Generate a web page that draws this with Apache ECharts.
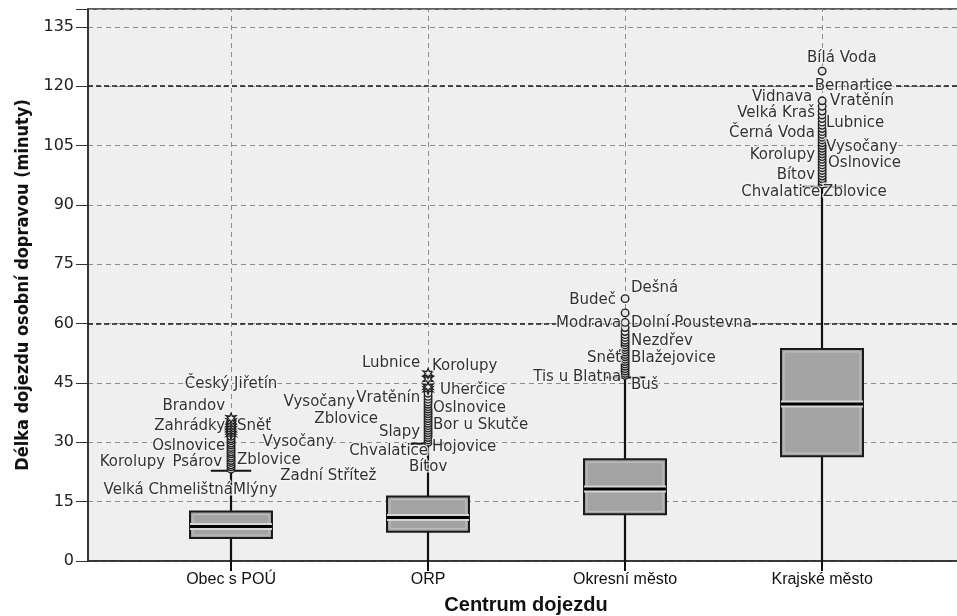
<!DOCTYPE html>
<html>
<head>
<meta charset="utf-8">
<script src="https://cdn.jsdelivr.net/npm/echarts@6/dist/echarts.min.js"></script>
<style>
html,body{margin:0;padding:0;background:#fff;}
#chart{width:957px;height:616px;}
</style>
</head>
<body>
<div id="chart"></div>
<script>
// ---------------- DATA ----------------
const categories = ['Obec s POÚ', 'ORP', 'Okresní město', 'Krajské město'];
const whiskerLow  = [0, 0, 0, 0];
const q1          = [5.8, 7.4, 11.8, 26.5];
const median      = [8.7, 11.0, 18.2, 39.7];
const q3          = [12.5, 16.3, 25.7, 53.6];
const whiskerHigh = [22.8, 29.6, 46.4, 94.6];

// outliers (circles) per category
const outliersObec = [23.2, 23.8, 24.3, 24.9, 25.4, 26.0, 26.5, 27.1, 27.6, 28.2, 28.7, 29.3, 29.8, 30.4, 30.9, 31.5];
const outliersORP = [30.0, 30.6, 31.2, 31.8, 32.4, 33.0, 33.6, 34.2, 34.8, 35.4, 36.0, 36.6, 37.2, 37.8, 38.4, 39.0, 39.6, 40.2, 40.9, 41.6, 42.4];
const outliersOkres = [46.9, 47.4, 48.0, 48.6, 49.2, 49.8, 50.4, 51.0, 51.6, 52.2, 52.8, 53.4, 54.0, 54.6, 55.2, 55.8, 56.5, 57.2, 58.0, 59.0, 60.3, 62.7, 66.3];
const outliersKraj = [95.2, 95.9, 96.6, 97.3, 98.0, 98.7, 99.4, 100.1, 100.8, 101.5, 102.2, 102.9, 103.6, 104.3, 105.0, 105.7, 106.4, 107.1, 107.8, 108.5, 109.3, 110.1, 110.9, 111.8, 112.7, 113.7, 114.9, 116.3, 123.8];
// extreme values (stars)
const extremesObec = [32.1, 32.7, 33.3, 33.9, 34.6, 35.3, 36.1];
const extremesORP = [43.4, 44.0, 46.0, 47.4];

const yTicks = [0, 15, 30, 45, 60, 75, 90, 105, 120, 135];
const darkGridValues = [60, 120];

// outlier labels: [name, x (category units), y (minutes), side]
const outlierLabels = [
  ['Český Jiřetín', 1.0, 44.8, 'C'],
  ['Brandov', 0.97, 39.2, 'L'],
  ['Zahrádky', 0.97, 34.1, 'L'],
  ['Sněť', 1.03, 34.1, 'R'],
  ['Oslnovice', 0.97, 29.1, 'L'],
  ['Vysočany', 1.16, 30.1, 'R'],
  ['Korolupy', 0.665, 25.0, 'L'],
  ['Psárov', 0.955, 25.0, 'L'],
  ['Zblovice', 1.03, 25.5, 'R'],
  ['Zadní Střítež', 1.25, 21.5, 'R'],
  ['Velká Chmelištná', 1.01, 18.0, 'L'],
  ['Mlýny', 1.01, 18.0, 'R'],

  ['Lubnice', 1.96, 50.1, 'L'],
  ['Korolupy', 2.02, 49.3, 'R'],
  ['Vysočany', 1.63, 40.2, 'L'],
  ['Vratěnín', 1.96, 41.2, 'L'],
  ['Uherčice', 2.06, 43.2, 'R'],
  ['Zblovice', 1.746, 35.9, 'L'],
  ['Oslnovice', 2.025, 38.7, 'R'],
  ['Slapy', 1.96, 32.6, 'L'],
  ['Bor u Skutče', 2.025, 34.4, 'R'],
  ['Chvalatice', 2.0, 27.8, 'L'],
  ['Hojovice', 2.02, 28.8, 'R'],
  ['Bítov', 2.0, 23.8, 'C'],

  ['Dešná', 3.03, 69.0, 'R'],
  ['Budeč', 2.954, 66.0, 'L'],
  ['Modrava', 2.98, 60.2, 'L'],
  ['Dolní Poustevna', 3.03, 60.2, 'R'],
  ['Nezdřev', 3.03, 55.6, 'R'],
  ['Sněť', 2.98, 51.3, 'L'],
  ['Blažejovice', 3.03, 51.3, 'R'],
  ['Tis u Blatna', 2.98, 46.5, 'L'],
  ['Buš', 3.03, 44.5, 'R'],

  ['Bílá Voda', 4.10, 127.2, 'C'],
  ['Bernartice', 4.16, 120.1, 'C'],
  ['Vidnava', 3.95, 117.3, 'L'],
  ['Vratěnín', 4.04, 116.1, 'R'],
  ['Velká Kraš', 3.964, 113.1, 'L'],
  ['Lubnice', 4.02, 110.7, 'R'],
  ['Černá Voda', 3.964, 108.2, 'L'],
  ['Vysočany', 4.02, 104.7, 'R'],
  ['Korolupy', 3.964, 102.7, 'L'],
  ['Oslnovice', 4.03, 100.6, 'R'],
  ['Bítov', 3.964, 97.6, 'L'],
  ['Chvalatice', 3.99, 93.3, 'L'],
  ['Zblovice', 4.005, 93.3, 'R']
];

// ---------------- BUILD ----------------
const boxData = categories.map((c, i) => [i + 1, whiskerLow[i], q1[i], median[i], q3[i], whiskerHigh[i]]);
const outlierGroups = [outliersObec, outliersORP, outliersOkres, outliersKraj];
const outlierData = [];
outlierGroups.forEach((arr, i) => arr.forEach(v => outlierData.push([i + 1, v])));
const extremeData = [];
[extremesObec, extremesORP].forEach((arr, i) => arr.forEach(v => extremeData.push([i + 1, v])));

const posMap = { L: 'left', R: 'right', C: 'inside' };
const labelData = outlierLabels.map(l => ({
  value: [l[1], l[2]],
  name: l[0],
  label: { position: posMap[l[3]] }
}));

const BOX_W = 0.416;  // in category units
const CAP_W = 0.205;

const chart = echarts.init(document.getElementById('chart'));
const labelFont = 'DejaVu Sans';

chart.setOption({
  animation: false,
  backgroundColor: '#ffffff',
  grid: {
    left: 88, top: 9, width: 876, bottom: 55,
    outerBoundsMode: 'none',
    containLabel: false,
    show: true, backgroundColor: '#efefef', borderColor: '#2a2a2a', borderWidth: 1.5
  },
  xAxis: {
    type: 'value',
    min: 0.274, max: 4.72,
    name: 'Centrum dojezdu',
    nameLocation: 'middle',
    nameGap: 34,
    nameTextStyle: { fontFamily: 'Liberation Sans', fontWeight: 'bold', fontSize: 20, color: '#111' },
    axisLine: { show: true, lineStyle: { color: '#2a2a2a', width: 1.5 } },
    axisTick: { show: true, customValues: [1, 2, 3, 4], length: 10, lineStyle: { color: '#111', width: 2 } },
    axisLabel: {
      customValues: [1, 2, 3, 4],
      formatter: v => categories[Math.round(v) - 1],
      margin: 11, fontFamily: 'Liberation Sans', fontSize: 16, color: '#111'
    },
    splitLine: { show: false }
  },
  yAxis: {
    type: 'value',
    min: 0, max: 139.5, interval: 15,
    name: 'Délka dojezdu osobní dopravou (minuty)',
    nameLocation: 'middle',
    nameGap: 56,
    nameTextStyle: { fontFamily: "'Liberation Sans Narrow', 'DejaVu Sans Condensed', 'Liberation Sans'", fontWeight: 'bold', fontSize: 18, color: '#111' },
    axisLine: { show: true, lineStyle: { color: '#2a2a2a', width: 1.5 } },
    axisTick: { show: true, length: 12, lineStyle: { color: '#333', width: 1 } },
    axisLabel: {
      margin: 14, fontFamily: labelFont, fontSize: 16, color: '#222',
      formatter: v => (yTicks.indexOf(v) >= 0 ? String(v) : '')
    },
    splitLine: { show: true, lineStyle: { color: '#8c8c8c', type: [5, 4], width: 1 } }
  },
  series: [
    {
      type: 'scatter',
      name: 'grid',
      data: [],
      silent: true,
      z: 1,
      markLine: {
        silent: true,
        z: 1,
        symbol: 'none',
        label: { show: false },
        animation: false,
        data: [
          ...darkGridValues.map(v => ({ yAxis: v, lineStyle: { color: '#1a1a1a', type: [5, 3], width: 1.6 } })),
          ...categories.map((c, i) => ({ xAxis: i + 1, lineStyle: { color: '#8c8c8c', type: [5, 4], width: 1 } }))
        ]
      }
    },
    {
      type: 'custom',
      name: 'box',
      z: 10,
      data: boxData,
      renderItem: function (params, api) {
        const x = api.value(0);
        const pLow = api.coord([x, api.value(1)]);
        const pQ1 = api.coord([x, api.value(2)]);
        const pMed = api.coord([x, api.value(3)]);
        const pQ3 = api.coord([x, api.value(4)]);
        const pHigh = api.coord([x, api.value(5)]);
        const bw = api.size([BOX_W, 0])[0];
        const cw = api.size([CAP_W, 0])[0];
        const cx = Math.round(pQ1[0]);
        return {
          type: 'group',
          children: [
            { type: 'line', shape: { x1: cx, y1: pLow[1] + 1, x2: cx, y2: pHigh[1] },
              style: { stroke: '#111', lineWidth: 2.2 } },
            { type: 'line', shape: { x1: cx - cw / 2, y1: pHigh[1], x2: cx + cw / 2, y2: pHigh[1] },
              style: { stroke: '#111', lineWidth: 2 } },
            { type: 'rect', shape: { x: cx - bw / 2, y: pQ3[1], width: bw, height: pQ1[1] - pQ3[1] },
              style: { fill: '#a3a3a3', stroke: '#1a1a1a', lineWidth: 2 } },
            { type: 'rect', shape: { x: cx - bw / 2 + 3, y: pQ3[1] + 3, width: bw - 6, height: pQ1[1] - pQ3[1] - 6 },
              style: { fill: 'none', stroke: '#c4c4c4', lineWidth: 1 } },
            { type: 'line', shape: { x1: cx - bw / 2, y1: pMed[1], x2: cx + bw / 2, y2: pMed[1] },
              style: { stroke: '#d6d6d6', lineWidth: 7 } },
            { type: 'line', shape: { x1: cx - bw / 2, y1: pMed[1], x2: cx + bw / 2, y2: pMed[1] },
              style: { stroke: '#000', lineWidth: 3 } }
          ]
        };
      }
    },
    {
      type: 'scatter',
      name: 'outliers',
      z: 11,
      data: outlierData,
      symbol: 'circle',
      symbolSize: 7.5,
      itemStyle: { color: '#e6e6e6', borderColor: '#222', borderWidth: 1.4, opacity: 1 },
      silent: true
    },
    {
      type: 'scatter',
      name: 'extremes',
      z: 11,
      data: extremeData,
      symbol: 'path://M0,-10 L2.2,-3.8 L8.7,-5 L4.4,0 L8.7,5 L2.2,3.8 L0,10 L-2.2,3.8 L-8.7,5 L-4.4,0 L-8.7,-5 L-2.2,-3.8 Z',
      symbolSize: 10,
      itemStyle: { color: '#f2f2f2', borderColor: '#222', borderWidth: 1.3, opacity: 1 },
      silent: true
    },
    {
      type: 'scatter',
      name: 'labels',
      z: 12,
      data: labelData,
      symbolSize: 0,
      silent: true,
      label: {
        show: true,
        formatter: p => p.name,
        distance: 0,
        fontFamily: labelFont,
        fontSize: 15,
        color: '#000',
        textBorderColor: '#f4f4f4',
        textBorderWidth: 3
      }
    }
  ]
});
</script>
</body>
</html>
